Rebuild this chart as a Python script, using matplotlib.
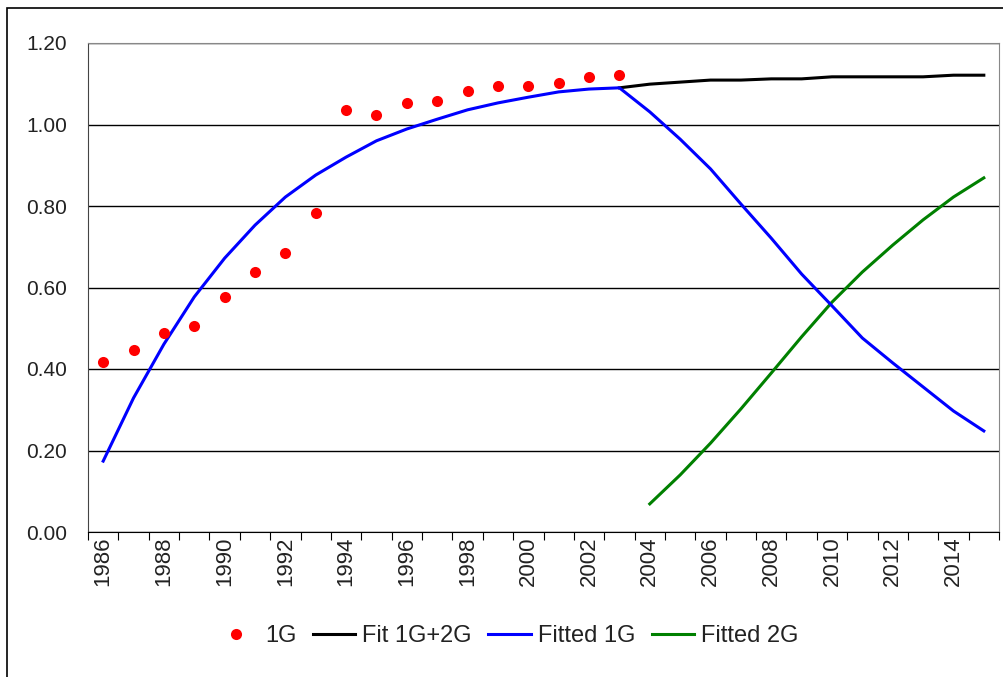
import matplotlib
matplotlib.use("Agg")
import matplotlib.pyplot as plt
from matplotlib.patches import Rectangle

plt.rcParams['font.family'] = ['Liberation Sans', 'DejaVu Sans']

years = list(range(1986, 2016))

# observed 1G, 1986-2003
obs_years = list(range(1986, 2004))
obs_1g = [0.417, 0.447, 0.488, 0.505, 0.577, 0.638, 0.685, 0.783, 1.036,
          1.023, 1.053, 1.058, 1.082, 1.094, 1.094, 1.102, 1.117, 1.121]

# fitted 1G, 1986-2015
fit_1g = [0.174, 0.329, 0.461, 0.577, 0.672, 0.753, 0.822, 0.876, 0.920,
          0.960, 0.989, 1.013, 1.036, 1.053, 1.067, 1.080, 1.087, 1.090,
          1.031, 0.964, 0.891, 0.805, 0.721, 0.633, 0.555, 0.476, 0.415,
          0.356, 0.297, 0.248]

# fit 1G+2G, 2003-2015
sum_years = list(range(2003, 2016))
fit_sum = [1.090, 1.099, 1.104, 1.109, 1.109, 1.112, 1.112, 1.117, 1.117,
           1.117, 1.117, 1.121, 1.121]

# fitted 2G, 2004-2015
g2_years = list(range(2004, 2016))
fit_2g = [0.069, 0.140, 0.218, 0.302, 0.390, 0.479, 0.564, 0.638, 0.704,
          0.766, 0.822, 0.869]

fig = plt.figure(figsize=(10.04, 6.77), dpi=100)
ax = fig.add_axes([88 / 1004, 1 - 532 / 677, 911 / 1004, 489 / 677])

# outer frame (right/bottom edges fall outside the image)
top = 1 - 7.5 / 677
fig.patches.append(Rectangle((7.5 / 1004, -0.1), 1.2, top + 0.1,
                             transform=fig.transFigure, fill=False,
                             edgecolor='black', linewidth=1.2))

ax.plot(sum_years, fit_sum, color='black', lw=2.2, label='Fit 1G+2G', zorder=3)
ax.plot(years, fit_1g, color='#0000ff', lw=2.2, label='Fitted 1G', zorder=4)
ax.plot(g2_years, fit_2g, color='#008000', lw=2.2, label='Fitted 2G', zorder=3)
ax.plot(obs_years, obs_1g, 'o', color='#ff0000', ms=8, mec='none', label='1G', zorder=5)

ax.set_xlim(1985.5, 2015.5)
ax.set_ylim(0, 1.2)
yt = [0, 0.2, 0.4, 0.6, 0.8, 1.0, 1.2]
ax.set_yticks(yt)
ax.set_yticklabels(['%.2f' % v for v in yt], fontsize=15, color='#222222')
ax.tick_params(axis='y', length=0, pad=15)
ax.grid(axis='y', color='black', lw=1)
ax.set_axisbelow(True)

ax.set_xticks([y + 0.5 for y in range(1985, 2016)])
ax.set_xticklabels([])
ax.tick_params(axis='x', which='major', direction='out', length=6, color='black')
ax.set_xticks(years, minor=True)
ax.set_xticklabels([str(y) if y % 2 == 0 else '' for y in years], minor=True,
                   rotation=90, fontsize=16, color='#222222')
ax.tick_params(axis='x', which='minor', length=0, pad=3)

for s in ['top', 'right']:
    ax.spines[s].set_color('#888888')
ax.spines['left'].set_color('#444444')
ax.spines['bottom'].set_color('black')

handles, labels = ax.get_legend_handles_labels()
order = [3, 0, 1, 2]
fig.legend([handles[i] for i in order], [labels[i] for i in order],
           loc='center', bbox_to_anchor=(507 / 1004, 1 - 636 / 677), ncol=4,
           frameon=False, fontsize=17, handlelength=1.8, columnspacing=0.7,
           handletextpad=0.3, labelcolor='#222222')

fig.savefig('out.png', dpi=100)
